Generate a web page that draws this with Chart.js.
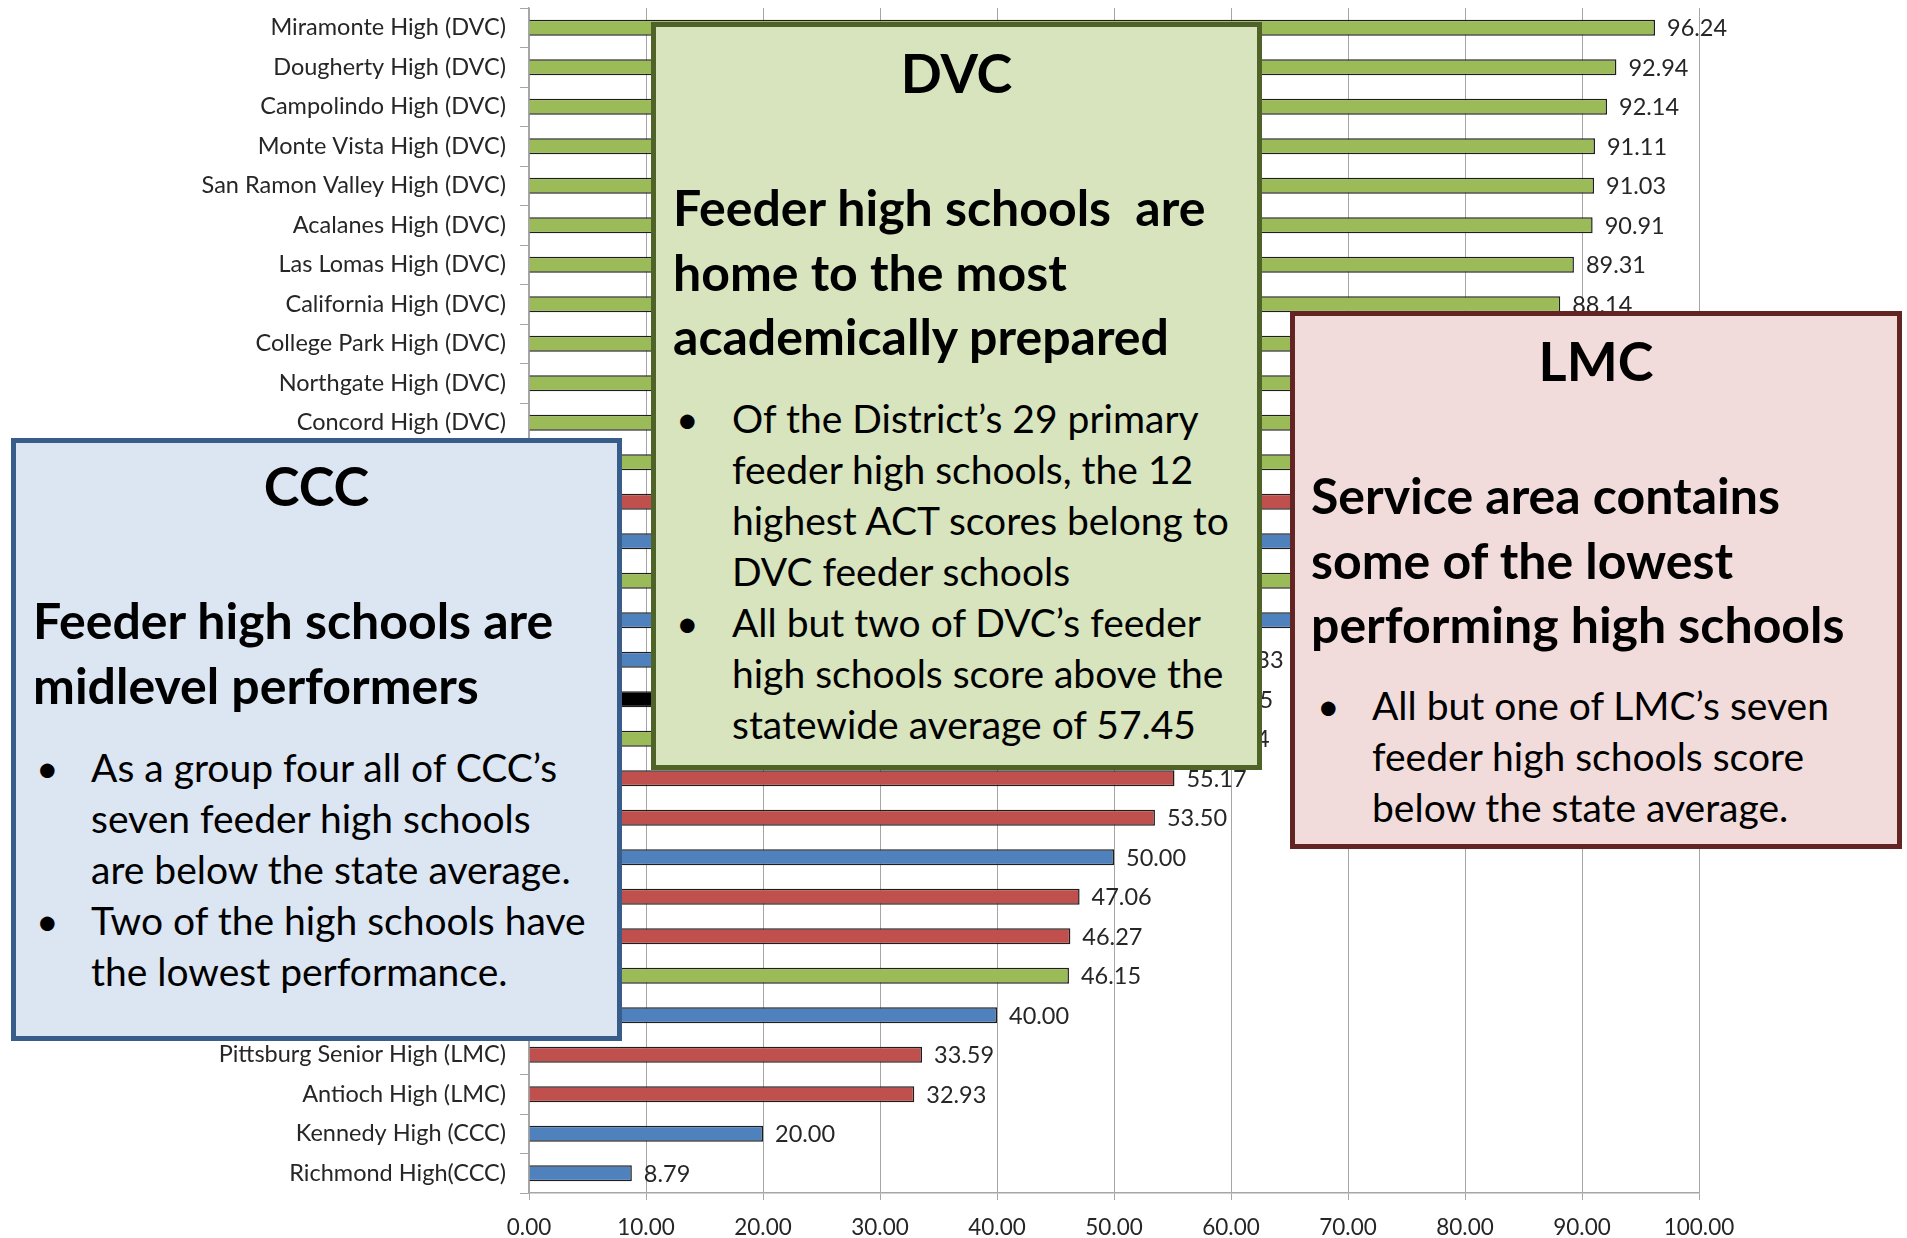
<!DOCTYPE html>
<html>
<head>
<meta charset="utf-8">
<script src="https://cdn.jsdelivr.net/npm/chart.js@4.4.1/dist/chart.umd.min.js"></script>
<style>
  html, body { margin: 0; padding: 0; background: #fff; }
  #lienzo { position: relative; width: 1907px; height: 1238px; overflow: hidden; font-family: Lato, "Open Sans", sans-serif; color: #000; }
  #grafico { position: absolute; left: 0; top: 0; }
  .caja { position: absolute; box-sizing: border-box; }
  .texto { position: absolute; white-space: nowrap; }
  .titulo { font-weight: bold; font-size: 54px; line-height: 70px; text-align: center; }
  .encabezado { font-weight: bold; font-size: 50px; line-height: 64.5px; }
  .vineta { font-size: 39px; line-height: 51px; }
</style>
</head>
<body>
<div id="lienzo">
  <canvas id="grafico" width="1907" height="1238"></canvas>

  <!-- DVC -->
  <div class="caja" style="left:651px;top:22px;width:611px;height:748px;border:5px solid #4F6228;background:#D7E4BD;"></div>
  <div class="texto titulo" style="left:651px;width:611px;top:38px;">DVC</div>
  <div class="texto encabezado" style="left:673px;top:175px;">Feeder high schools&nbsp; are<br>home to the most<br>academically prepared</div>
  <div class="texto vineta" style="left:676px;top:393px;">•</div>
  <div class="texto vineta" style="left:676px;top:597px;">•</div>
  <div class="texto vineta" style="left:732px;top:393px;">Of the District’s 29 primary<br>feeder high schools, the 12<br>highest ACT scores belong to<br>DVC feeder schools<br>All but two of DVC’s feeder<br>high schools score above the<br>statewide average of 57.45</div>

  <!-- CCC -->
  <div class="caja" style="left:11px;top:438px;width:611px;height:603px;border:5px solid #385D8A;background:#DCE6F2;"></div>
  <div class="texto titulo" style="left:11px;width:611px;top:451px;">CCC</div>
  <div class="texto encabezado" style="left:33px;top:588px;">Feeder high schools are<br>midlevel performers</div>
  <div class="texto vineta" style="left:36px;top:742px;">•</div>
  <div class="texto vineta" style="left:36px;top:895px;">•</div>
  <div class="texto vineta" style="left:91px;top:742px;">As a group four all of CCC’s<br>seven feeder high schools<br>are below the state average.<br>Two of the high schools have<br>the lowest performance.</div>

  <!-- LMC -->
  <div class="caja" style="left:1290px;top:311px;width:612px;height:538px;border:5px solid #632523;background:#F2DCDB;"></div>
  <div class="texto titulo" style="left:1290px;width:612px;top:326px;">LMC</div>
  <div class="texto encabezado" style="left:1311px;top:463px;">Service area contains<br>some of the lowest<br>performing high schools</div>
  <div class="texto vineta" style="left:1317px;top:680px;">•</div>
  <div class="texto vineta" style="left:1372px;top:680px;">All but one of LMC’s seven<br>feeder high schools score<br>below the state average.</div>
</div>

<script>
// datos (de arriba hacia abajo)
const escuelas = [
  "Miramonte High (DVC)", "Dougherty High (DVC)", "Campolindo High (DVC)", "Monte Vista High (DVC)",
  "San Ramon Valley High (DVC)", "Acalanes High (DVC)", "Las Lomas High (DVC)", "California High (DVC)",
  "College Park High (DVC)", "Northgate High (DVC)", "Concord High (DVC)", "Clayton Valley High (DVC)",
  "Heritage High (LMC)", "Middle College High (CCC)", "Alhambra High (DVC)", "El Cerrito High (CCC)",
  "Hercules High (CCC)", "California State Average", "Ygnacio Valley High (DVC)", "Liberty High (LMC)",
  "Freedom High (LMC)", "Pinole Valley High (CCC)", "Deer Valley High (LMC)", "Dozier-Libbey Medical High (LMC)",
  "Mt. Diablo High (DVC)", "De Anza High (CCC)", "Pittsburg Senior High (LMC)", "Antioch High (LMC)",
  "Kennedy High (CCC)", "Richmond High(CCC)"
];
const puntajes = [
  96.24, 92.94, 92.14, 91.11, 91.03, 90.91, 89.31, 88.14,
  87.80, 86.67, 84.62, 81.82, 76.92, 72.73, 69.23, 66.67,
  58.33, 57.45, 57.14, 55.17, 53.50, 50.00, 47.06, 46.27,
  46.15, 40.00, 33.59, 32.93, 20.00, 8.79
];
const colegios = [
  "DVC", "DVC", "DVC", "DVC", "DVC", "DVC", "DVC", "DVC",
  "DVC", "DVC", "DVC", "DVC", "LMC", "CCC", "DVC", "CCC",
  "CCC", "Estado", "DVC", "LMC", "LMC", "CCC", "LMC", "LMC",
  "DVC", "CCC", "LMC", "LMC", "CCC", "CCC"
];
const marcasX = [0, 10, 20, 30, 40, 50, 60, 70, 80, 90, 100];

const coloresColegio = { DVC: "#9BBB59", LMC: "#C0504D", CCC: "#4F81BD", Estado: "#000000" };
const grisEje = "#a6a6a6";
const colorTexto = "#262626";

const etiquetasValor = {
  id: "etiquetasValor",
  afterDatasetsDraw(chart) {
    const { ctx } = chart;
    const barras = chart.getDatasetMeta(0).data;
    ctx.save();
    ctx.font = "23.5px Lato";
    ctx.fillStyle = colorTexto;
    ctx.textBaseline = "middle";
    ctx.textAlign = "left";
    barras.forEach((barra, i) => {
      ctx.fillText(puntajes[i].toFixed(2), barra.x + 12, barra.y + 1);
    });
    ctx.restore();
  }
};

new Chart(document.getElementById("grafico"), {
  type: "bar",
  data: {
    labels: escuelas,
    datasets: [{
      data: puntajes,
      backgroundColor: colegios.map(c => coloresColegio[c]),
      borderColor: "#1e1e1e",
      borderWidth: 1.5,
      borderSkipped: "left",
      categoryPercentage: 1,
      barPercentage: 0.4
    }]
  },
  options: {
    indexAxis: "y",
    responsive: false,
    animation: false,
    layout: { padding: { top: 8, right: 208, bottom: 0, left: 0 } },
    plugins: { legend: { display: false }, tooltip: { enabled: false } },
    scales: {
      x: {
        min: 0,
        max: 100,
        afterBuildTicks: (eje) => { eje.ticks = marcasX.map(v => ({ value: v })); },
        afterFit: (eje) => { eje.height = 45; },
        ticks: {
          color: colorTexto,
          font: { family: "Lato", size: 22.5 },
          padding: 14,
          callback: (v) => Number(v).toFixed(2)
        },
        grid: { color: grisEje, lineWidth: 1, tickLength: 7 },
        border: { color: grisEje, width: 1.5 }
      },
      y: {
        afterFit: (eje) => {
          eje.width = 529;
          eje.paddingTop = 0;
          eje.paddingBottom = 0;
        },
        ticks: {
          color: colorTexto,
          font: { family: "Lato", size: 23.5 },
          padding: 14,
          autoSkip: false
        },
        grid: { drawOnChartArea: false, color: grisEje, tickLength: 9, offset: true },
        border: { color: grisEje, width: 1.5 }
      }
    }
  },
  plugins: [etiquetasValor]
});
</script>
</body>
</html>
